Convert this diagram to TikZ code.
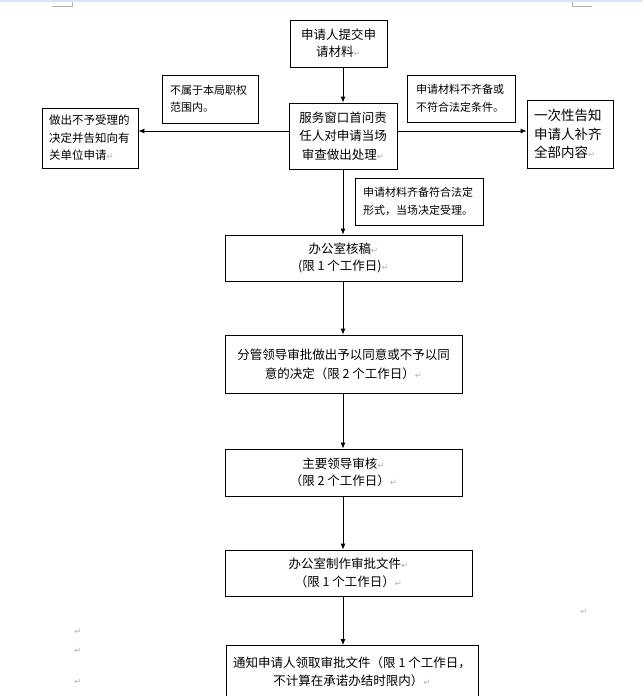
\documentclass[tikz,border=0pt]{standalone}
\usepackage{fontspec}
\setmainfont{Liberation Serif}
\newfontfamily\cjk{Noto Sans CJK SC}
\newfontfamily\symf{DejaVu Sans}
\usetikzlibrary{arrows.meta}
\definecolor{topstrip}{RGB}{218,228,246}
\newcommand{\retmk}{{\symf\color{gray!60}\fontsize{8.5}{8.5}\selectfont ↵}}
\begin{document}
\begin{tikzpicture}[x=1pt,y=-1pt,
  box/.style={draw, line width=0.8pt, inner sep=0pt, align=center,
    font=\cjk\fontsize{12.5}{18.5}\selectfont},
  note/.style={draw, line width=0.8pt, inner sep=0pt, align=left,
    font=\cjk\fontsize{11}{17.5}\selectfont},
  arr/.style={-{Latex[length=6pt,width=5pt]}, line width=0.8pt},
  pmark/.style={inner sep=0pt, font=\symf\fontsize{8.5}{8.5}\selectfont, text=gray!60}]
\path[use as bounding box, clip] (0,0) rectangle (643,696);
\fill[white] (0,0) rectangle (643,696);
\fill[topstrip] (0,0) rectangle (643,2);
% page corner marks
\draw[gray!60, line width=0.6pt] (52,6) -- (72,6) -- (72,2);
\draw[gray!60, line width=0.6pt] (592,6) -- (572,6) -- (572,2);

\node[box, minimum width=97pt, minimum height=47pt, font=\cjk\fontsize{12.5}{17}\selectfont] (b1) at (338.5,43.5) {申请人提交申\\请材料\retmk};
\node[box, minimum width=108pt, minimum height=66pt] (b2) at (343,136) {服务窗口首问责\\任人对申请当场\\审查做出处理\retmk};
\node[note, minimum width=96pt, minimum height=48pt, text width=80pt] (b3) at (210,99) {不属于本局职权\\范围内。};
\node[note, minimum width=108pt, minimum height=47pt, text width=90pt] (b4) at (461,98.5) {申请材料不齐备或\\不符合法定条件。};
\node[note, minimum width=96pt, minimum height=60pt, text width=82pt, font=\cjk\fontsize{11.5}{17.5}\selectfont] (b5) at (90,138) {做出不予受理的\\决定并告知向有\\关单位申请\retmk};
\node[box, minimum width=86pt, minimum height=68pt, text width=72pt, align=left, font=\cjk\fontsize{13.5}{18.5}\selectfont] (b6) at (570,134) {一次性告知\\申请人补齐\\全部内容\retmk};
\node[note, minimum width=128pt, minimum height=47pt, text width=112pt] (b7) at (419,201.5) {申请材料齐备符合法定\\形式，当场决定受理。};
\node[box, minimum width=237pt, minimum height=46pt, font=\cjk\fontsize{12.5}{17.5}\selectfont] (b8) at (343.5,258) {办公室核稿\retmk\\(限 1 个工作日)\retmk};
\node[box, minimum width=237pt, minimum height=58pt, font=\cjk\fontsize{12.5}{19}\selectfont] (b9) at (343.5,364) {分管领导审批做出予以同意或不予以同\\意的决定（限 2 个工作日）\retmk};
\node[box, minimum width=237pt, minimum height=47pt, font=\cjk\fontsize{12.5}{17.5}\selectfont] (b10) at (343.5,472.5) {主要领导审核\retmk\\（限 2 个工作日）\retmk};
\node[box, minimum width=247pt, minimum height=46pt, font=\cjk\fontsize{12.5}{17.5}\selectfont] (b11) at (348.5,573) {办公室制作审批文件\retmk\\（限 1 个工作日）\retmk};
\node[box, minimum width=252pt, minimum height=70pt, anchor=north, font=\cjk\fontsize{12.5}{18}\selectfont] (b12) at (352,645) {通知申请人领取审批文件（限 1 个工作日，\\不计算在承诺办结时限内）\retmk\\ \mbox{}};

% connectors
\draw[arr] (b1.south -| b2.north) -- (b2.north);
\draw[arr] (b2.west |- 0,131) -- (b5.east |- 0,131);
\draw[arr] (b2.east |- 0,131) -- (b6.west |- 0,131);
\draw[arr] (b2.south) -- (b2.south |- b8.north);
\draw[arr] (b8.south -| b2.south) -- (b9.north -| b2.south);
\draw[arr] (b9.south -| b2.south) -- (b10.north -| b2.south);
\draw[arr] (b10.south -| b2.south) -- (b11.north -| b2.south);
\draw[arr] (b11.south -| b2.south) -- (b12.north -| b2.south);

% stray paragraph marks
\node[pmark] (m1) at (78,632) {↵};
\node[pmark] (m2) at (78,651) {↵};
\node[pmark] (m3) at (78,682) {↵};
\node[pmark] (m4) at (584,612) {↵};
\end{tikzpicture}
\end{document}
